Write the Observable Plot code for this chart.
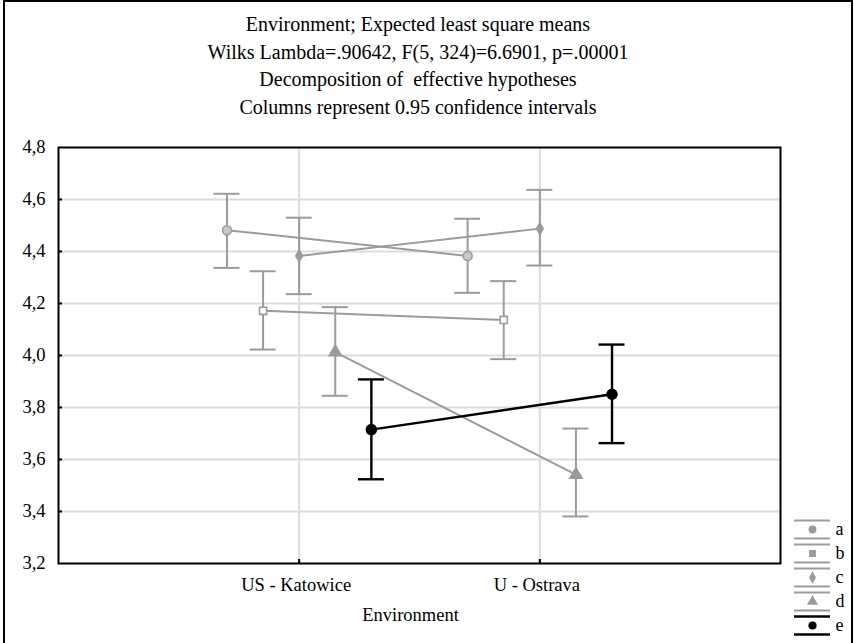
<!DOCTYPE html>
<html>
<head>
<meta charset="utf-8">
<script src="https://cdn.jsdelivr.net/npm/d3@7"></script>
<script src="https://cdn.jsdelivr.net/npm/@observablehq/plot@0.6"></script>
<style>
  html, body { margin: 0; padding: 0; background: #fff; }
  #wrap { position: relative; width: 854px; height: 643px; overflow: hidden; background: #fff; font-family: "Liberation Serif", Tinos, "DejaVu Serif", serif; }
  #border { position: absolute; left: 3px; top: 0px; width: 846px; height: 700px; border: 2px solid #000; border-bottom: none; }
  #title { position: absolute; left: 0; top: 11px; width: 836px; text-align: center; font-size: 20px; line-height: 27.6px; color: #000; }
  #chart { position: absolute; left: 0; top: 130px; }
  #legend { position: absolute; left: 794px; top: 517px; }
</style>
</head>
<body>
<div id="wrap">
  <div id="border"></div>
  <div id="title">
    <div>Environment; Expected least square means</div>
    <div>Wilks Lambda=.90642, F(5, 324)=6.6901, p=.00001</div>
    <div>Decomposition of&nbsp; effective hypotheses</div>
    <div>Columns represent 0.95 confidence intervals</div>
  </div>
  <div id="chart"></div>
  <div id="legend"></div>
</div>
<script>
// ---- data ----
const environments = ["US - Katowice", "U - Ostrava"];
const seriesNames = ["a", "b", "c", "d", "e"];
const meanA = [4.482, 4.383];
const meanB = [4.172, 4.137];
const meanC = [4.383, 4.488];
const meanD = [4.013, 3.542];
const meanE = [3.715, 3.851];
const lowA = [4.337, 4.241];
const lowB = [4.023, 3.986];
const lowC = [4.236, 4.346];
const lowD = [3.845, 3.381];
const lowE = [3.524, 3.663];
const upA = [4.622, 4.526];
const upB = [4.324, 4.286];
const upC = [4.530, 4.637];
const upD = [4.186, 3.719];
const upE = [3.908, 4.042];
const yTicks = [3.2, 3.4, 3.6, 3.8, 4.0, 4.2, 4.4, 4.6, 4.8];

// ---- styling ----
const grey = "#9b9b9b";
const colors = {a: grey, b: grey, c: grey, d: grey, e: "#000"};
const symbols = {a: "circle", b: "square", c: "diamond", d: "triangle", e: "circle"};
const fills = {a: "#c8c8c8", b: "#fff", c: grey, d: grey, e: "#000"};
const radii = {a: 4.5, b: 4, c: 3.5, d: 4.5, e: 5};
const widths = {a: 2, b: 2, c: 2, d: 2, e: 2.4};
const dodge = {a: -0.3, b: -0.15, c: 0, d: 0.15, e: 0.3};
const capHalf = 0.054;

const means = {a: meanA, b: meanB, c: meanC, d: meanD, e: meanE};
const lows = {a: lowA, b: lowB, c: lowC, d: lowD, e: lowE};
const ups = {a: upA, b: upB, c: upC, d: upD, e: upE};

const rows = [];
for (const s of seriesNames) {
  environments.forEach((env, i) => {
    rows.push({series: s, env, pos: i + 1, x: i + 1 + dodge[s], mean: means[s][i], lo: lows[s][i], hi: ups[s][i]});
  });
}
const fmt = d => d3.format(".1f")(d).replace(".", ",");
const font = '"Liberation Serif", Tinos, "DejaVu Serif", serif';

const perSeries = s => rows.filter(r => r.series === s);
const seriesMarks = [];
for (const s of seriesNames) {
  const d = perSeries(s);
  seriesMarks.push(
    Plot.line(d, {x: "x", y: "mean", stroke: colors[s], strokeWidth: widths[s]}),
    Plot.ruleX(d, {x: "x", y1: "lo", y2: "hi", stroke: colors[s], strokeWidth: widths[s]}),
    Plot.ruleY(d, {y: "lo", x1: r => r.x - capHalf, x2: r => r.x + capHalf, stroke: colors[s], strokeWidth: widths[s]}),
    Plot.ruleY(d, {y: "hi", x1: r => r.x - capHalf, x2: r => r.x + capHalf, stroke: colors[s], strokeWidth: widths[s]}),
    Plot.dot(d, {x: "x", y: "mean", symbol: () => symbols[s], fill: fills[s], stroke: colors[s], strokeWidth: 1.6, r: radii[s]})
  );
}

const chart = Plot.plot({
  width: 854,
  height: 513,
  marginLeft: 58,
  marginRight: 74,
  marginTop: 17,
  marginBottom: 80,
  style: {fontFamily: font, fontSize: "18px", background: "transparent", color: "#000"},
  x: {domain: [0, 3]},
  y: {domain: [3.2, 4.8]},
  symbol: {type: "identity"},
  marks: [
    Plot.gridY(yTicks.slice(1, -1), {stroke: "#dcdcdc", strokeOpacity: 1, strokeWidth: 2}),
    Plot.gridX([1, 2], {stroke: "#dcdcdc", strokeOpacity: 1, strokeWidth: 2}),
    Plot.tickY(yTicks.slice(1, -1), {y: d => d, stroke: "#000", strokeWidth: 2, insetRight: 718}),
    Plot.tickX([1, 2], {x: d => d, stroke: "#000", strokeWidth: 2, insetTop: 412}),
    Plot.axisY(yTicks, {tickSize: 0, tickPadding: 13, tickFormat: fmt, fontSize: 18.5, label: null}),
    Plot.axisX([1, 2], {tickSize: 0, tickPadding: 14, dx: -3, tickFormat: d => environments[d - 1], fontSize: 18.5, label: null}),
    Plot.text(["Environment"], {frameAnchor: "bottom", dy: 57, dx: -9, text: d => d, fontSize: 18.5}),
    ...seriesMarks,
    Plot.frame({stroke: "#000", strokeWidth: 2})
  ]
});
document.getElementById("chart").appendChild(chart);

// ---- legend ----
const legend = Plot.plot({
  width: 58,
  height: 120,
  margin: 0,
  x: {domain: [0, 58], range: [0, 58]},
  y: {type: "band", domain: seriesNames, padding: 0},
  symbol: {type: "identity"},
  style: {fontFamily: font, fontSize: "18px", background: "transparent", color: "#000", overflow: "visible"},
  axis: null,
  marks: [
    Plot.ruleY(seriesNames, {y: d => d, x1: 0, x2: 36, dy: -9, stroke: d => colors[d], strokeWidth: d => d === "e" ? 2.6 : 2.2}),
    Plot.ruleY(seriesNames, {y: d => d, x1: 0, x2: 36, dy: 9, stroke: d => colors[d], strokeWidth: d => d === "e" ? 2.6 : 2.2}),
    Plot.ruleX(seriesNames, {x: 18, y: d => d, stroke: d => colors[d], strokeWidth: d => d === "e" ? 2.6 : 2.2, insetTop: 3, insetBottom: 3}),
    Plot.dot(seriesNames, {x: 18, y: d => d, symbol: d => symbols[d], fill: d => d === "e" ? "#000" : grey, stroke: d => colors[d], r: d => radii[d]}),
    Plot.text(seriesNames, {x: 41, y: d => d, text: d => d, textAnchor: "start", fontSize: 18})
  ]
});
document.getElementById("legend").appendChild(legend);
</script>
</body>
</html>
